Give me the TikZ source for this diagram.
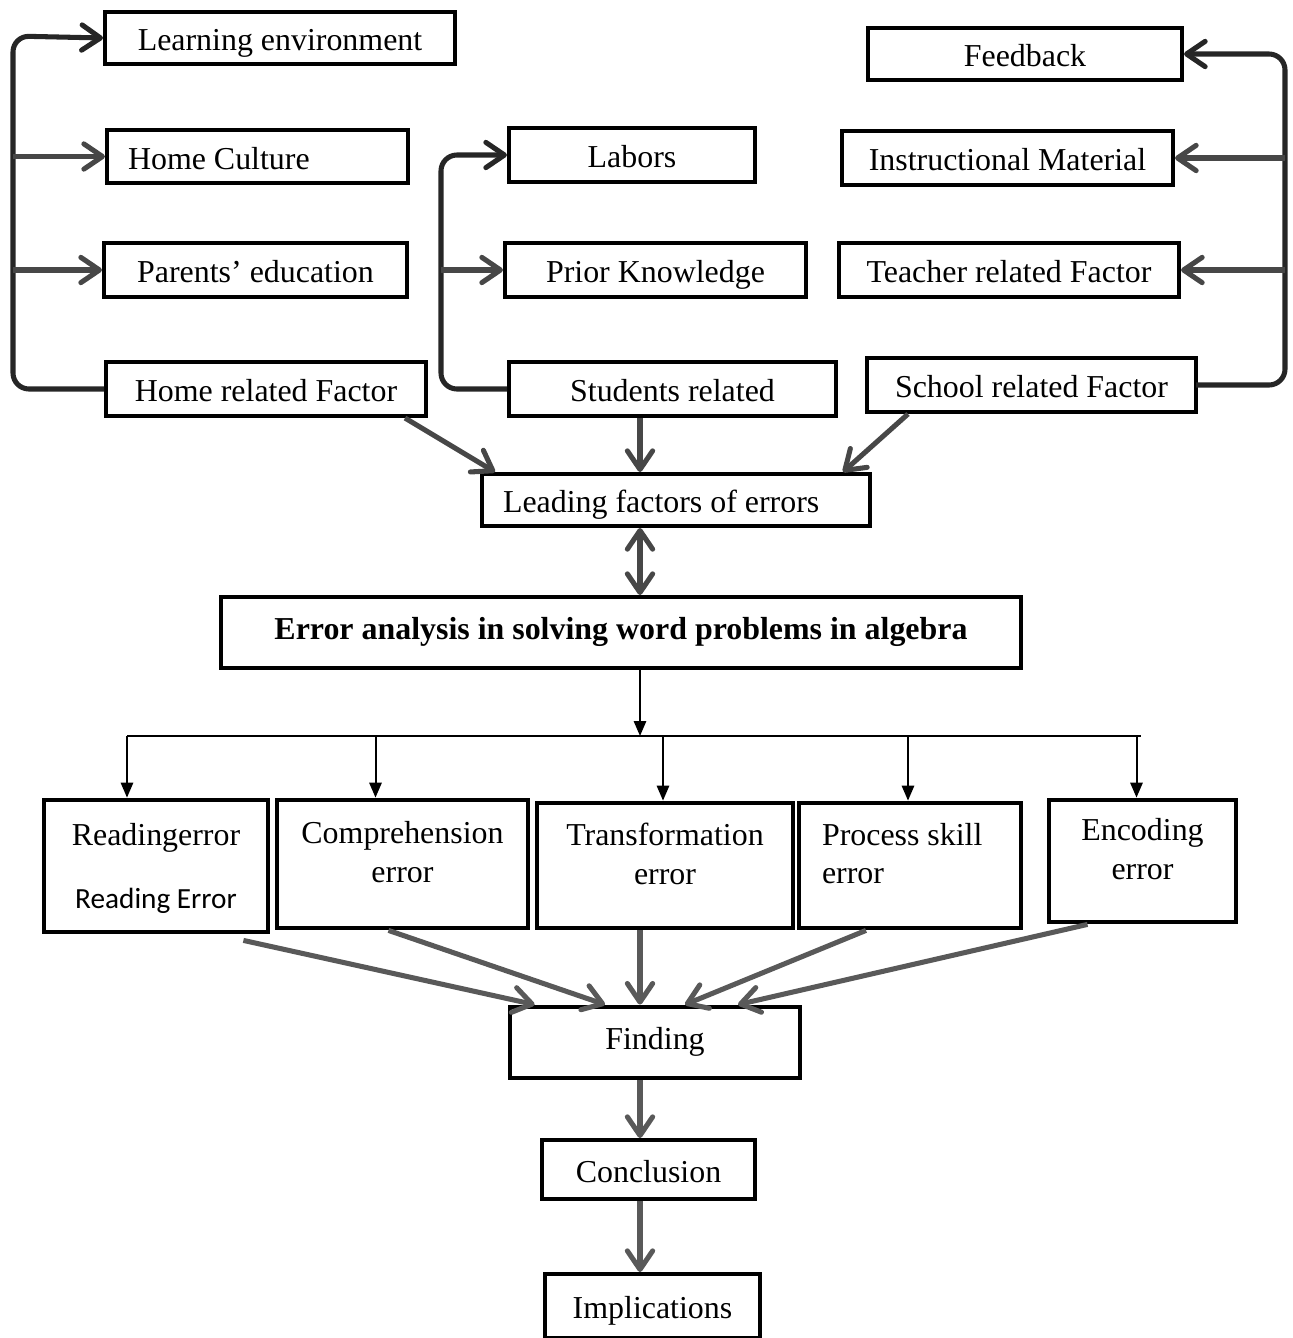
\documentclass[tikz,border=0pt]{standalone}
\usepackage{fontspec}
\setmainfont{Liberation Serif}
\newfontfamily\calibri{Carlito}
\usepackage{tikz}
\usetikzlibrary{positioning, arrows.meta}
\newlength\px
\setlength\px{0.376pt}
\tikzstyle{box} = [rectangle, draw=black, line width=1.5pt, inner sep=0pt, text centered, font=\fontsize{12pt}{14.5pt}\selectfont]
\tikzstyle{factor} = [box, text height=9.5pt, text depth=0pt]
\tikzstyle{errbox} = [box, line width=1.8pt, align=center, text depth=9pt]
\tikzstyle{arrow} = [line width=1.9pt, draw=black!72, -{Straight Barb[length=7pt,width=9.5pt,round]}]
\tikzstyle{arrowlow} = [arrow, draw=black!65]
\tikzstyle{dblarrow} = [line width=1.9pt, draw=black!72, {Straight Barb[length=7pt,width=9.5pt,round]}-{Straight Barb[length=7pt,width=9.5pt,round]}]
\tikzstyle{bracket} = [arrow, draw=black!85, rounded corners=6pt]
\tikzstyle{thinline} = [line width=0.75pt, draw=black]
\tikzstyle{thinarrow} = [thinline, -{Triangle[length=5.6pt,width=4.6pt]}]

\begin{document}
\begin{tikzpicture}[x=\px, y=-\px]
        \useasboundingbox (0,0) rectangle (1292,1338);
        % home related factors
        \node (learn) [factor, minimum width=350\px, minimum height=52\px] at (280,38) {Learning environment};
        \node (culture) [factor, minimum width=301\px, minimum height=53\px] at (257.5,156.5) {\makebox[259\px][l]{Home Culture}};
        \node (parents) [factor, minimum width=303\px, minimum height=54\px] at (255.5,270) {Parents’ education};
        \node (homef) [factor, minimum width=320\px, minimum height=54\px] at (266,389) {Home related Factor};
        % students related factors
        \node (labors) [factor, minimum width=246\px, minimum height=54\px] at (632,155) {Labors};
        \node (prior) [factor, minimum width=301\px, minimum height=54\px] at (655.5,270) {Prior Knowledge};
        \node (students) [factor, minimum width=327\px, minimum height=54\px] at (672.5,389) {Students related};
        % school related factors
        \node (feedback) [factor, minimum width=314\px, minimum height=52\px] at (1025,54) {Feedback};
        \node (instr) [factor, minimum width=331\px, minimum height=54\px] at (1007.5,158) {Instructional Material};
        \node (teacher) [factor, minimum width=340\px, minimum height=54\px] at (1009,270) {Teacher related Factor};
        \node (school) [factor, minimum width=329\px, minimum height=54\px] at (1031.5,385) {School related Factor};

        \node (leading) [factor, minimum width=388\px, minimum height=52\px] at (676,500) {\makebox[346\px][l]{Leading factors of errors}};
        \node (analysis) [factor, text depth=4pt, minimum width=800\px, minimum height=71\px, font=\fontsize{12pt}{14.5pt}\selectfont\bfseries] at (621,632.5) {Error analysis in solving word problems in algebra};

        % types of errors
        \node (reading) [errbox, text depth=0pt, minimum width=224\px, minimum height=132\px] at (156,866) {Readingerror\\[9pt]{\calibri\fontsize{11pt}{13pt}\selectfont Reading Error}};
        \node (compre) [errbox, minimum width=251\px, minimum height=128\px] at (402.5,864) {Comprehension\\error};
        \node (transf) [errbox, minimum width=256\px, minimum height=125\px] at (665,865.5) {Transformation\\error};
        \node (process) [errbox, minimum width=222\px, minimum height=125\px] at (910,865.5) {\makebox[176\px][l]{Process skill}\\\makebox[176\px][l]{error}};
        \node (encoding) [errbox, minimum width=187\px, minimum height=122\px] at (1142.5,861) {Encoding\\error};

        \node (finding) [factor, line width=1.8pt, text depth=4pt, minimum width=290\px, minimum height=71\px] at (655,1042.5) {Finding};
        \node (conclusion) [factor, minimum width=213\px, minimum height=59\px] at (648.5,1169.5) {Conclusion};
        \node (implic) [factor, minimum width=215\px, minimum height=64\px] at (652.5,1306) {Implications};

        \coordinate (lbar) at (13,36);
        \coordinate (mbar) at (441,155);
        \coordinate (rbar) at (1285,54);
        \coordinate (axis) at (640,0);
        \coordinate (hub) at (640,736);

        \draw [bracket] (homef.west) -| (lbar) -- (learn.west);
        \draw [arrow] (lbar |- culture.west) -- (culture.west);
        \draw [arrow] (lbar |- parents.west) -- (parents.west);
        \draw [bracket] (students.west) -| (mbar) -- (labors.west);
        \draw [arrow] (mbar |- prior.west) -- (prior.west);
        \draw [bracket] ([xshift=-2\px]school.east) -| (rbar) -- (feedback.east);
        \draw [arrow] (rbar |- instr.east) -- (instr.east);
        \draw [arrow] (rbar |- teacher.east) -- (teacher.east);

        \draw [arrow] ([xshift=-23\px]homef.south east) -- ([xshift=15\px]leading.north west);
        \draw [arrow] (students.south -| axis) -- (leading.north -| axis);
        \draw [arrow] ([xshift=43\px]school.south west) -- ([xshift=-29\px]leading.north east);
        \draw [dblarrow] (leading.south -| axis) -- (analysis.north -| axis);

        \draw [thinarrow] (analysis.south -| axis) -- (hub);
        \draw [thinline] ([xshift=-29\px]reading.north |- hub) -- ([xshift=-2\px]encoding.north |- hub);
        \draw [thinarrow] ([xshift=-29\px]reading.north |- hub) -- ([xshift=-29\px]reading.north);
        \draw [thinarrow] ([xshift=-27\px]compre.north |- hub) -- ([xshift=-27\px]compre.north);
        \draw [thinarrow] ([xshift=-2\px]transf.north |- hub) -- ([xshift=-2\px]transf.north);
        \draw [thinarrow] ([xshift=-2\px]process.north |- hub) -- ([xshift=-2\px]process.north);
        \draw [thinarrow] ([xshift=-6\px]encoding.north |- hub) -- ([xshift=-6\px]encoding.north);

        \draw [arrowlow] ([xshift=-27\px, yshift=-6\px]reading.south east) -- ([xshift=27\px]finding.north west);
        \draw [arrowlow] ([xshift=-14\px]compre.south) -- ([xshift=-50\px]finding.north);
        \draw [arrowlow] (transf.south -| axis) -- (finding.north -| axis);
        \draw [arrowlow] ([xshift=-44\px]process.south) -- ([xshift=30\px]finding.north);
        \draw [arrowlow] ([xshift=-55\px]encoding.south) -- ([xshift=83\px]finding.north);
        \draw [arrowlow] (finding.south -| axis) -- (conclusion.north -| axis);
        \draw [arrowlow] (conclusion.south -| axis) -- (implic.north -| axis);
\end{tikzpicture}
\end{document}
